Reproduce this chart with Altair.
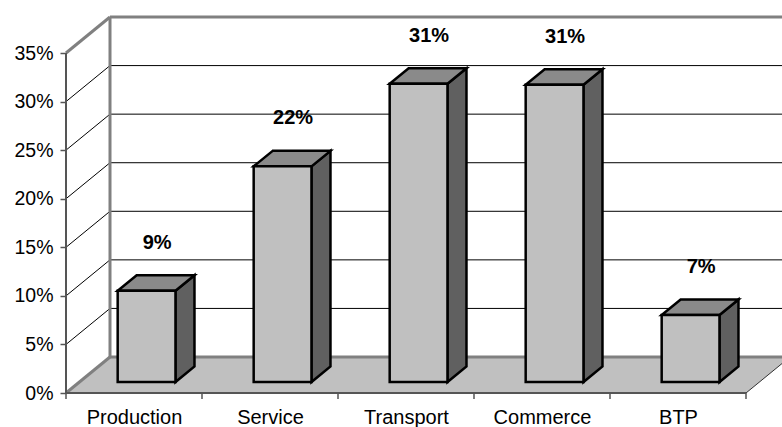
import json
import altair as alt
import pandas as pd

# ---------------- data ----------------
categories = ["Production", "Service", "Transport", "Commerce", "BTP"]
values = [9.4, 22.2, 30.7, 30.6, 6.9]          # percent
labels = ["9%", "22%", "31%", "31%", "7%"]
y_ticks = [0, 5, 10, 15, 20, 25, 30, 35]

# ---------------- geometry (pixel sizes -> data units) ----------------
W, H = 716, 377
PX_CAT = 136.0          # pixels per category
PX_PCT = 9.714          # pixels per percent
XMAX = W / PX_CAT
YMAX = H / PX_PCT
DX, DY = 44 / PX_CAT, 36 / PX_PCT      # depth of the 3D box
FX, FY = 13 / PX_CAT, 11 / PX_PCT      # bar front offset into depth
BX, BY = 19 / PX_CAT, 15.5 / PX_PCT    # bar depth
L, R = 0.38, 0.805                     # bar front face within category
NC = len(categories)
TOP = y_ticks[-1]

FONT = "Liberation Sans"
xs = alt.Scale(domain=[0, XMAX], zero=False, nice=False)
ys = alt.Scale(domain=[0, YMAX], zero=False, nice=False)

# ---------------- tables ----------------
floor = pd.DataFrame({"y": [0, DY], "xl": [0, DX], "xr": [NC, NC + DX]})

grid_rows = []
for t in y_ticks[1:-1]:
    grid_rows.append({"x": 0, "y": t, "x2": DX, "y2": t + DY})
    grid_rows.append({"x": DX, "y": t + DY, "x2": XMAX, "y2": t + DY})
grid = pd.DataFrame(grid_rows)

wall_rows = [
    {"x": 0, "y": TOP, "x2": DX, "y2": TOP + DY},          # top diagonal
    {"x": DX, "y": TOP + DY, "x2": XMAX, "y2": TOP + DY},  # back wall top
    {"x": DX, "y": DY, "x2": DX, "y2": TOP + DY},          # back vertical
    {"x": 0, "y": 0, "x2": DX, "y2": DY},                  # floor left edge
    {"x": DX, "y": DY, "x2": XMAX, "y2": DY},              # floor back edge
]
walls = pd.DataFrame(wall_rows)

front_rows = [
    {"x": 0, "y": 0, "x2": 0, "y2": TOP},      # y axis line
    {"x": 0, "y": 0, "x2": NC, "y2": 0},       # floor front edge
]
front_lines = pd.DataFrame(front_rows)
right_edge = pd.DataFrame([{"x": NC, "y": 0, "x2": NC + DX, "y2": DY}])
ticks_df = pd.DataFrame({"x": list(range(NC + 1))})

front_faces, side_faces, top_faces, label_rows = [], [], [], []
for i, (c, v, lab) in enumerate(zip(categories, values, labels)):
    front_faces.append({"cat": c, "x0": i + L, "x1": i + R, "y0": FY, "y1": FY + v})
    side_faces.append({"cat": c, "x": i + R, "lo": FY, "hi": FY + v})
    side_faces.append({"cat": c, "x": i + R + BX, "lo": FY + BY, "hi": FY + v + BY})
    top_faces.append({"cat": c, "y": FY + v, "xl": i + L, "xr": i + R})
    top_faces.append({"cat": c, "y": FY + v + BY, "xl": i + L + BX, "xr": i + R + BX})
    label_rows.append({"cat": c, "x": i + 0.5 + 0.17, "y": FY + v, "label": lab})
front_faces = pd.DataFrame(front_faces)
side_faces = pd.DataFrame(side_faces)
top_faces = pd.DataFrame(top_faces)
label_df = pd.DataFrame(label_rows)

# ---------------- axes (shared by every layer) ----------------
x_axis = alt.Axis(
    values=[i + 0.5 for i in range(NC)],
    labelExpr=f"{json.dumps(categories)}[floor(datum.value)]",
    ticks=False, domain=False, grid=False, title=None,
    labelFont=FONT, labelFontSize=20, labelColor="black",
    labelPadding=14, labelFlush=False, labelOverlap=False,
)
y_axis = alt.Axis(
    values=y_ticks, labelExpr="datum.value + '%'",
    tickSize=6, tickColor="#555555", tickWidth=1.5,
    domain=False, grid=False, title=None,
    labelFont=FONT, labelFontSize=19.5, labelColor="black",
    labelPadding=7, labelOverlap=False, labelFlush=False,
)


def X(field, **kw):
    return alt.X(field, scale=xs, axis=x_axis, **kw)


def Y(field, **kw):
    return alt.Y(field, scale=ys, axis=y_axis, **kw)


floor_layer = alt.Chart(floor).mark_area(orient="horizontal", color="#C0C0C0").encode(
    y=Y("y:Q"),
    x=X("xl:Q", stack=False),
    x2="xr:Q",
)


def seg_layer(df, color, width):
    return alt.Chart(df).mark_rule(color=color, strokeWidth=width).encode(
        x=X("x:Q"),
        y=Y("y:Q"),
        x2="x2:Q",
        y2="y2:Q",
    )


grid_layer = seg_layer(grid, "#000000", 1)
wall_layer = seg_layer(walls, "#808080", 3)
front_layer = seg_layer(front_lines, "#555555", 2)
right_layer = seg_layer(right_edge, "#333333", 1)

tick_layer = alt.Chart(ticks_df).mark_rule(color="#555555", strokeWidth=1.5).encode(
    x=X("x:Q"),
    y=alt.value(H),
    y2=alt.value(H + 6),
)

side_layer = alt.Chart(side_faces).mark_area(
    orient="vertical", color="#606060", stroke="black", strokeWidth=2.5, strokeJoin="miter"
).encode(
    x=X("x:Q"),
    y=Y("hi:Q", stack=False),
    y2="lo:Q",
    detail="cat:N",
)

top_layer = alt.Chart(top_faces).mark_area(
    orient="horizontal", color="#8A8A8A", stroke="black", strokeWidth=2.5, strokeJoin="miter"
).encode(
    y=Y("y:Q"),
    x=X("xl:Q", stack=False),
    x2="xr:Q",
    detail="cat:N",
)

front_layer_bars = alt.Chart(front_faces).mark_rect(
    color="#C0C0C0", stroke="black", strokeWidth=2.5
).encode(
    x=X("x0:Q"),
    x2="x1:Q",
    y=Y("y0:Q"),
    y2="y1:Q",
)

label_layer = alt.Chart(label_df).mark_text(
    font=FONT, fontSize=20, fontWeight="bold", color="black", dy=-48, baseline="middle"
).encode(
    x=X("x:Q"),
    y=Y("y:Q"),
    text="label:N",
)

chart = alt.layer(
    floor_layer, grid_layer, wall_layer, right_layer, front_layer, tick_layer,
    side_layer, top_layer, front_layer_bars, label_layer,
).properties(
    width=W, height=H,
    autosize=alt.AutoSizeParams(type="none"),
    padding={"left": 66, "top": 16, "right": 0, "bottom": 34},
    background="white",
).configure_view(strokeWidth=0)

chart.save("out.html", embed_options={"renderer": "svg", "actions": False})
